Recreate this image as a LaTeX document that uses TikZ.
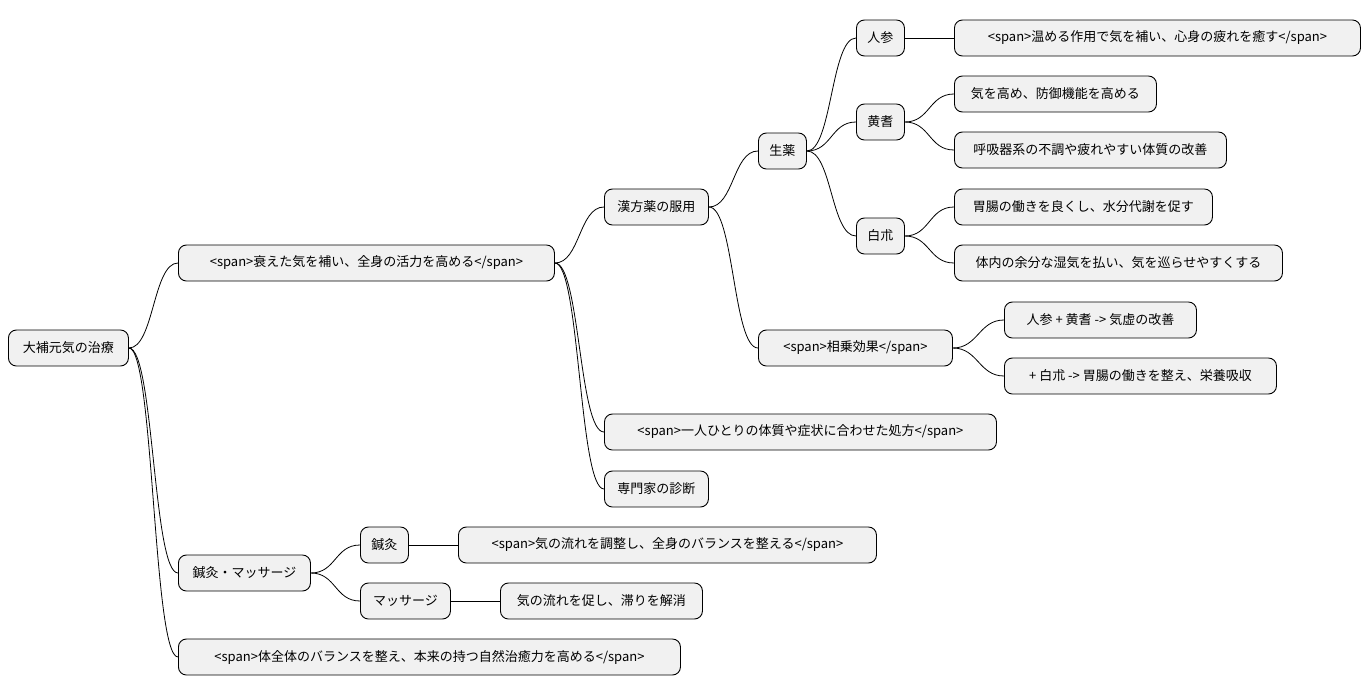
\documentclass[tikz,border=0pt]{standalone}
\usepackage{fontspec}
\setmainfont{Noto Sans CJK JP}
\begin{document}
\begin{tikzpicture}[x=1pt,y=-1pt,
  n/.style={draw=black,line width=0.9pt,fill={rgb,255:red,241;green,241;blue,241},rounded corners=8pt,minimum height=36pt,inner xsep=0pt,anchor=west,font=\fontsize{13}{15}\selectfont},
  c/.style={line width=0.8pt}]
\useasboundingbox (0,0) rectangle (1370,696);
\newcommand{\nd}[5]{\node[n,minimum width=#4pt] (#1) at (#2,#3) {#5};}
\nd{r}{8}{348}{120}{大補元気の治療}
\nd{a}{178}{263}{376}{<span>衰えた気を補い、全身の活力を高める</span>}
\nd{k}{604}{207}{104}{漢方薬の服用}
\nd{s}{758}{151}{48}{生薬}
\nd{nj}{856}{38}{48}{人参}
\nd{nj1}{954}{38}{406}{<span>温める作用で気を補い、心身の疲れを癒す</span>}
\nd{og}{856}{122}{48}{黄耆}
\nd{og1}{954}{94}{202}{気を高め、防御機能を高める}
\nd{og2}{954}{150}{272}{呼吸器系の不調や疲れやすい体質の改善}
\nd{bj}{856}{236}{48}{白朮}
\nd{bj1}{954}{207}{258}{胃腸の働きを良くし、水分代謝を促す}
\nd{bj2}{954}{263}{328}{体内の余分な湿気を払い、気を巡らせやすくする}
\nd{sj}{758}{348}{194}{<span>相乗効果</span>}
\nd{sj1}{1004}{320}{192}{人参 + 黄耆 -> 気虚の改善}
\nd{sj2}{1004}{376}{272}{+ 白朮 -> 胃腸の働きを整え、栄養吸収}
\nd{h}{604}{432}{392}{<span>一人ひとりの体質や症状に合わせた処方</span>}
\nd{m}{604}{489}{104}{専門家の診断}
\nd{b}{178}{573}{132}{鍼灸・マッサージ}
\nd{sk}{360}{545}{48}{鍼灸}
\nd{sk1}{458}{545}{418}{<span>気の流れを調整し、全身のバランスを整える</span>}
\nd{ms}{360}{601}{90}{マッサージ}
\nd{ms1}{500}{601}{202}{気の流れを促し、滞りを解消}
\nd{t}{178}{657}{502}{<span>体全体のバランスを整え、本来の持つ自然治癒力を高める</span>}
\foreach \p/\q in {r/a,r/b,r/t,a/k,a/h,a/m,k/s,k/sj,s/nj,s/og,s/bj,nj/nj1,og/og1,og/og2,bj/bj1,bj/bj2,sj/sj1,sj/sj2,b/sk,b/ms,sk/sk1,ms/ms1}
  \draw[c] (\p.east) .. controls ([xshift=25pt]\p.east) and ([xshift=-25pt]\q.west) .. (\q.west);
\end{tikzpicture}
\end{document}
